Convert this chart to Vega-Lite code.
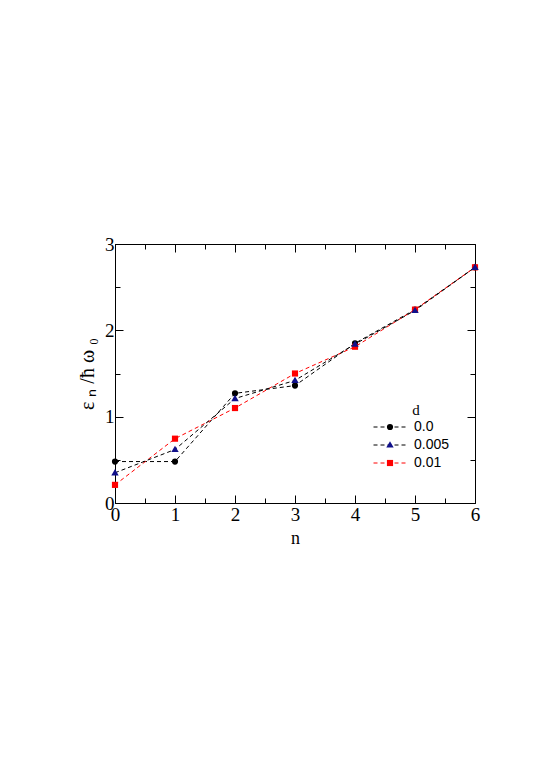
{
  "$schema": "https://vega.github.io/schema/vega-lite/v6.json",
  "width": 360,
  "height": 259,
  "autosize": "none",
  "padding": {"left": 115, "top": 244, "right": 70, "bottom": 268},
  "background": "white",
  "config": {
    "view": {"stroke": "black", "strokeWidth": 1},
    "axis": {"domainColor": "black", "tickColor": "black", "labelColor": "black", "titleColor": "black", "grid": false, "labelFont": "Liberation Serif", "titleFont": "Liberation Serif", "titleFontWeight": "normal"}
  },
  "data": {
    "values": [
      {"n": 0, "E": 0.48, "d": "0.0"},
      {"n": 1, "E": 0.48, "d": "0.0"},
      {"n": 2, "E": 1.27, "d": "0.0"},
      {"n": 3, "E": 1.36, "d": "0.0"},
      {"n": 4, "E": 1.85, "d": "0.0"},
      {"n": 5, "E": 2.24, "d": "0.0"},
      {"n": 6, "E": 2.73, "d": "0.0"},
      {"n": 0, "E": 0.21, "d": "0.01"},
      {"n": 1, "E": 0.745, "d": "0.01"},
      {"n": 2, "E": 1.10, "d": "0.01"},
      {"n": 3, "E": 1.50, "d": "0.01"},
      {"n": 4, "E": 1.81, "d": "0.01"},
      {"n": 5, "E": 2.24, "d": "0.01"},
      {"n": 6, "E": 2.73, "d": "0.01"},
      {"n": 0, "E": 0.35, "d": "0.005"},
      {"n": 1, "E": 0.62, "d": "0.005"},
      {"n": 2, "E": 1.21, "d": "0.005"},
      {"n": 3, "E": 1.42, "d": "0.005"},
      {"n": 4, "E": 1.84, "d": "0.005"},
      {"n": 5, "E": 2.23, "d": "0.005"},
      {"n": 6, "E": 2.73, "d": "0.005"}
    ]
  },
  "layer": [
    {
      "mark": {"type": "line", "strokeDash": [4, 3], "strokeWidth": 1},
      "encoding": {
        "x": {
          "field": "n", "type": "quantitative",
          "scale": {"domain": [0, 6], "nice": false, "zero": false},
          "axis": {
            "orient": "bottom", "title": "n", "titleFontSize": 18, "titlePadding": 2,
            "values": [0, 0.5, 1, 1.5, 2, 2.5, 3, 3.5, 4, 4.5, 5, 5.5, 6],
            "labelExpr": "datum.value % 1 === 0 ? format(datum.value, 'd') : ''",
            "labelFontSize": 19, "labelPadding": 10, "labelFlush": false, "labelOverlap": false,
            "tickSize": {"condition": {"test": "datum.value % 1 === 0", "value": -8}, "value": -5}
          }
        },
        "y": {
          "field": "E", "type": "quantitative",
          "scale": {"domain": [0, 3], "nice": false, "zero": false},
          "axis": {
            "orient": "left", "title": "ε ₙ /ħ ω ₀", "titleFontSize": 20, "titlePadding": 7,
            "values": [0, 0.5, 1, 1.5, 2, 2.5, 3],
            "labelExpr": "datum.value % 1 === 0 ? format(datum.value, 'd') : ''",
            "labelFontSize": 19, "labelPadding": 9, "labelFlush": false, "labelOverlap": false,
            "tickSize": {"condition": {"test": "datum.value % 1 === 0", "value": -8}, "value": -5}
          }
        },
        "stroke": {
          "field": "d", "type": "nominal",
          "scale": {"domain": ["0.0", "0.005", "0.01"], "range": ["black", "black", "red"]},
          "legend": {
            "orient": "none", "legendX": 268, "legendY": 159, "padding": 0,
            "title": "d", "titleFont": "Liberation Serif", "titleFontSize": 15, "titleFontWeight": "normal", "titleColor": "black", "titleAnchor": "middle", "titlePadding": 2,
            "symbolType": "M-5.5,0H5.5", "symbolSize": 36, "symbolDash": [4, 3], "symbolStrokeWidth": 1,
            "labelFont": "Liberation Sans", "labelFontSize": 14, "labelColor": "black", "labelOffset": 17, "rowPadding": 4
          }
        }
      }
    },
    {
      "mark": {"type": "point", "filled": true, "size": 38, "opacity": 1, "strokeWidth": 0},
      "encoding": {
        "x": {
          "field": "n", "type": "quantitative",
          "axis": {
            "orient": "top", "title": null, "labels": false, "domain": false,
            "values": [0, 0.5, 1, 1.5, 2, 2.5, 3, 3.5, 4, 4.5, 5, 5.5, 6],
            "tickSize": {"condition": {"test": "datum.value % 1 === 0", "value": -8}, "value": -5}
          }
        },
        "y": {
          "field": "E", "type": "quantitative",
          "axis": {
            "orient": "right", "title": null, "labels": false, "domain": false,
            "values": [0, 0.5, 1, 1.5, 2, 2.5, 3],
            "tickSize": {"condition": {"test": "datum.value % 1 === 0", "value": -8}, "value": -5}
          }
        },
        "shape": {
          "field": "d", "type": "nominal",
          "scale": {"range": ["circle", "M0,-1.2L1.2,0.85L-1.2,0.85Z", "square"]},
          "legend": {
            "orient": "none", "legendX": 268, "legendY": 176, "padding": 0,
            "title": null,
            "labelFont": "Liberation Sans", "labelFontSize": 14, "labelExpr": "''", "labelOffset": 0, "rowPadding": 4,
            "symbolStrokeWidth": 0, "symbolSize": 38
          }
        },
        "fill": {
          "field": "d", "type": "nominal",
          "scale": {"range": ["black", "#10108a", "red"]},
          "legend": {
            "orient": "none", "legendX": 268, "legendY": 176, "padding": 0,
            "title": null,
            "labelFont": "Liberation Sans", "labelFontSize": 14, "labelExpr": "''", "labelOffset": 0, "rowPadding": 4,
            "symbolStrokeWidth": 0, "symbolSize": 38
          }
        }
      }
    }
  ],
  "resolve": {"axis": {"x": "independent", "y": "independent"}}
}
